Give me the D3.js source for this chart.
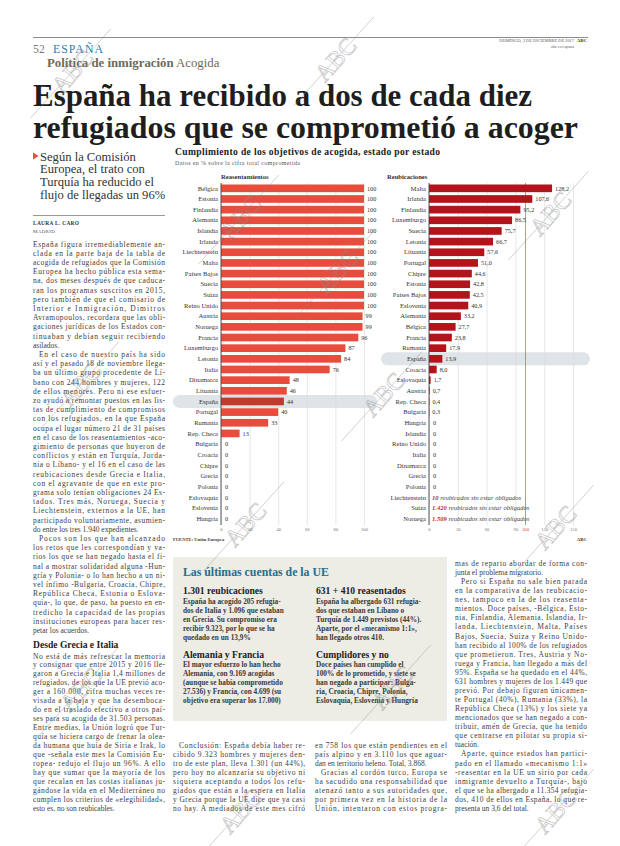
<!DOCTYPE html>
<html><head><meta charset="utf-8">
<script src="https://cdn.jsdelivr.net/npm/d3@7"></script>
<style>html,body{margin:0;padding:0;background:#fff;} svg{display:block;}</style>
</head><body>
<svg id="page" width="620" height="846"></svg>
<script>
// ---------------- DATA ----------------
const resCountries = ["Bélgica","Estonia","Finlandia","Alemania","Islandia","Irlanda","Liechtenstein","Malta","Países Bajos","Suecia","Suiza","Reino Unido","Austria","Noruega","Francia","Luxemburgo","Letonia","Italia","Dinamarca","Lituania","España","Portugal","Rumania","Rep. Checa","Bulgaria","Croacia","Chipre","Grecia","Polonia","Eslovaquia","Eslovenia","Hungría"];
const resValues = [100,100,100,100,100,100,100,100,100,100,100,100,99,99,96,87,84,76,48,46,44,40,33,13,0,0,0,0,0,0,0,0];
const reuCountries = ["Malta","Irlanda","Finlandia","Luxemburgo","Suecia","Letonia","Lituania","Portugal","Chipre","Estonia","Países Bajos","Eslovenia","Alemania","Bélgica","Francia","Rumania","España","Croacia","Eslovaquia","Austria","Rep. Checa","Bulgaria","Hungría","Islandia","Reino Unido","Italia","Dinamarca","Grecia","Polonia","Liechtenstein","Suiza","Noruega"];
const reuValues = [128.2,107.6,95.2,86.5,75.7,66.7,57.6,51.0,44.6,42.8,42.5,40.9,33.2,27.7,23.8,17.9,13.9,8.0,1.7,0.7,0.4,0.3,0,0,0,0,0,0,0,null,null,null];
const noteCountries = ["Liechtenstein","Suiza","Noruega"];
const noteValues = ["10","1.420","1.509"];
const leftTicks = [0,20,40,60,80,100];
const rightTicks = [0,30,60,90,120,150];
const rightTarget = 100;

// ---------------- TEXT ----------------
const headline = ["España ha recibido a dos de cada diez","refugiados que se comprometió a acoger"];
const subhead = ["Según la Comisión","Europea, el trato con","Turquía ha reducido el","flujo de llegadas un 96%"];
const colLeft1 = [
"España figura irremediablemente an-","clada en la parte baja de la tabla de","acogida de refugiados que la Comisión","Europea ha hecho pública esta sema-","na, dos meses después de que caduca-","ran los programas suscritos en 2015,","pero también de que el comisario de","Interior e Inmigración, Dimitros","Avramopoulos, recordara que las obli-","gaciones jurídicas de los Estados con-","tinuaban y debían seguir recibiendo","asilados.$",
"^En el caso de nuestro país ha sido","así y el pasado 18 de noviembre llega-","ba un último grupo procedente de Lí-","bano con 244 hombres y mujeres, 122","de ellos menores. Pero ni ese esfuer-","zo ayudó a remontar puestos en las lis-","tas de cumplimiento de compromisos","con los refugiados, en la que España","ocupa el lugar número 21 de 31 países","en el caso de los reasentamientos -aco-","gimiento de personas que huyeron de","conflictos y están en Turquía, Jorda-","nia o Líbano- y el 16 en el caso de las","reubicaciones desde Grecia e Italia,","con el agravante de que en este pro-","grama solo tenían obligaciones 24 Es-","tados. Tres más, Noruega, Suecia y","Liechtenstein, externos a la UE, han","participado voluntariamente, asumien-","do entre los tres 1.940 expedientes.$",
"^Pocos son los que han alcanzado","los retos que les correspondían y va-","rios los que se han negado hasta el fi-","nal a mostrar solidaridad alguna -Hun-","gría y Polonia- o lo han hecho a un ni-","vel ínfimo -Bulgaria, Croacia, Chipre,","República Checa, Estonia o Eslova-","quia-, lo que, de paso, ha puesto en en-","tredicho la capacidad de las propias","instituciones europeas para hacer res-","petar los acuerdos.$"];
const colLeft2 = [
"No está de más refrescar la memoria","y consignar que entre 2015 y 2016 lle-","garon a Grecia e Italia 1,4 millones de","refugiados, de los que la UE previó aco-","ger a 160.000, cifra muchas veces re-","visada a la baja y que ha desemboca-","do en el traslado efectivo a otros paí-","ses para su acogida de 31.503 personas.","Entre medias, la Unión logró que Tur-","quía se hiciera cargo de frenar la olea-","da humana que huía de Siria e Irak, lo","que -señala este mes la Comisión Eu-","ropea- redujo el flujo un 96%. A ello","hay que sumar que la mayoría de los","que recalan en las costas italianas ju-","gándose la vida en el Mediterráneo no","cumplen los criterios de «elegibilidad»,","esto es, no son reubicables.$"];
const colA = ["^Conclusión: España debía haber re-","cibido 9.323 hombres y mujeres den-","tro de este plan, lleva 1.301 (un 44%),","pero hoy no alcanzaría su objetivo ni","siquiera aceptando a todos los refu-","giados que están a la espera en Italia","y Grecia porque la UE dice que ya casi","no hay. A mediados de este mes cifró"];
const colB = ["en 758 los que están pendientes en el","país alpino y en 3.110 los que aguar-","dan en territorio heleno. Total, 3.868.$","^Gracias al cordón turco, Europa se","ha sacudido una responsabilidad que","atenazó tanto a sus autoridades que,","por primera vez en la historia de la","Unión, intentaron con estos progra-"];
const colC = ["mas de reparto abordar de forma con-","junta el problema migratorio.$","^Pero si España no sale bien parada","en la comparativa de las reubicacio-","nes, tampoco en la de los reasenta-","mientos. Doce países, -Bélgica, Esto-","nia, Finlandia, Alemania, Islandia, Ir-","landa, Liechtenstein, Malta, Países","Bajos, Suecia, Suiza y Reino Unido-","han recibido al 100% de los refugiados","que prometieron. Tres, Austria y No-","ruega y Francia, han llegado a más del","95%. España se ha quedado en el 44%,","631 hombres y mujeres de los 1.449 que","previó. Por debajo figuran únicamen-","te Portugal (40%), Rumania (33%), la","República Checa (13%) y los siete ya","mencionados que se han negado a con-","tribuir, amén de Grecia, que ha tenido","que centrarse en pilotar su propia si-","tuación.$","^Aparte, quince estados han partici-","pado en el llamado «mecanismo 1:1»","-reasentar en la UE un sirio por cada","inmigrante devuelto a Turquía-, bajo","el que se ha albergado a 11.354 refugia-","dos, 410 de ellos en España, lo que re-","presenta un 3,6 del total.$"];
const box1Head = "1.301 reubicaciones";
const box1 = ["España ha acogido 205 refugia-","dos de Italia y 1.096 que estaban","en Grecia. Su compromiso era","recibir 9.323, por lo que se ha","quedado en un 13,9%"];
const box2Head = "631 + 410 reasentados";
const box2 = ["España ha albergado 631 refugia-","dos que estaban en Líbano o","Turquía de 1.449 previstos (44%).","Aparte, por el «mecanismo 1:1»,","han llegado otros 410."];
const box3Head = "Alemania y Francia";
const box3 = ["El mayor esfuerzo lo han hecho","Alemania, con 9.169 acogidas","(aunque se había comprometido","27.536) y Francia, con 4.699 (su","objetivo era superar los 17.000)"];
const box4Head = "Cumplidores y no";
const box4 = ["Doce países han cumplido el","100% de lo prometido, y siete se","han negado a participar: Bulga-","ria, Croacia, Chipre, Polonia,","Eslovaquia, Eslovenia y Hungría"];

// ---------------- DRAW ----------------
const F = "'Liberation Serif','Times New Roman',serif";
const svg = d3.select("#page");
svg.append("rect").attr("width",620).attr("height",846).attr("fill","#fff");

function txt(p, x, y, s, o = {}) {
  const t = p.append("text").attr("x", x).attr("y", y).text(s)
    .attr("font-family", o.ff || F).attr("font-size", o.size || 7.5)
    .attr("fill", o.fill || "#222");
  if (o.bold) t.attr("font-weight", "bold");
  if (o.italic) t.attr("font-style", "italic");
  if (o.anchor) t.attr("text-anchor", o.anchor);
  if (o.len) t.attr("textLength", o.len).attr("lengthAdjust", o.adj || "spacing");
  if (o.ls) t.attr("letter-spacing", o.ls);
  return t;
}
function column(lines, x, y0, step, w, o = {}) {
  lines.forEach((raw, i) => {
    let s = raw, ind = 0, just = o.justify !== false;
    if (s.startsWith("^")) { s = s.slice(1); ind = 6; }
    if (s.endsWith("$")) { s = s.slice(0, -1); just = false; }
    const t = txt(svg, x + ind, y0 + i * step, s, {size: o.size || 7.5, fill: o.fill || "#3d3d3d", bold: o.bold});
    if (just) t.attr("textLength", w - ind).attr("lengthAdjust", "spacing");
  });
}

// Header
svg.append("line").attr("x1",33).attr("x2",588).attr("y1",37.5).attr("y2",37.5).attr("stroke","#8c8c8c").attr("stroke-width",1);
txt(svg,33,52.5,"52",{size:11.8,fill:"#7a7a7a"});
txt(svg,53,52.5,"ESPAÑA",{size:11.8,fill:"#2f7db3",len:50});
const sec = txt(svg,47,66.5,"",{size:12.8,fill:"#6e6a58"});
sec.append("tspan").attr("font-weight","bold").text("Política de inmigración");
sec.append("tspan").text(" Acogida");
txt(svg,574,42,"DOMINGO, 3 DE DICIEMBRE DE 2017",{size:4.4,fill:"#555",anchor:"end"});
txt(svg,587,42,"ABC",{size:4.8,fill:"#333",bold:true,anchor:"end"});
txt(svg,574,48,"abc.es/espana",{size:4.2,fill:"#666",anchor:"end"});

// Headline
txt(svg,33,106,headline[0],{size:31,bold:true,fill:"#1e1e1e",len:499,adj:"spacingAndGlyphs"});
txt(svg,33,138,headline[1],{size:31,bold:true,fill:"#1e1e1e",len:545,adj:"spacingAndGlyphs"});

// Subhead
svg.append("path").attr("d","M33,152.5 L38.5,156 L33,159.5 Z").attr("fill","#e0533d");
subhead.forEach((s,i)=> txt(svg,40,160.5+i*12.7,s,{size:12.6,fill:"#333"}));
svg.append("line").attr("x1",33).attr("x2",165).attr("y1",215.5).attr("y2",215.5).attr("stroke","#999").attr("stroke-width",1);
txt(svg,33,224.5,"LAURA L. CARO",{size:5.4,bold:true,fill:"#333",ls:0.3});
txt(svg,33,233,"MADRID",{size:5,fill:"#555",ls:0.3});

column(colLeft1, 33, 246.5, 9.2, 132);
txt(svg,33,648,"Desde Grecia e Italia",{size:9.6,bold:true,fill:"#222"});
column(colLeft2, 33, 658.5, 8.97, 132);

// ---------------- CHART ----------------
const ch = svg.append("g");
txt(ch,175,155,"Cumplimiento de los objetivos de acogida, estado por estado",{size:9.6,bold:true,fill:"#222",len:265});
txt(ch,175,165,"Datos en % sobre la cifra total comprometida",{size:6,fill:"#555",len:125});
txt(ch,221,179,"Reasentamientos",{size:6.6,bold:true,fill:"#333"});
txt(ch,387,179,"Reubicaciones",{size:6.6,bold:true,fill:"#333"});

const yTop = 183, yBot = 524;
const yL = d3.scaleBand().domain(resCountries).range([yTop,yBot]).paddingInner(0.28).paddingOuter(0.14);
const yR = d3.scaleBand().domain(reuCountries).range([yTop,yBot]).paddingInner(0.28).paddingOuter(0.14);
const xL = d3.scaleLinear().domain([0,100]).range([221,364]);
const xR = d3.scaleLinear().domain([0,150]).range([429,573]);
const fmtR = v => v === 0 ? "0" : d3.format(".1f")(v).replace(".", ",");

// highlight band for España
const hy = yL("España") + yL.bandwidth()/2;
ch.append("rect").attr("x",173).attr("y",hy-6.5).attr("width",204).attr("height",13).attr("rx",6.5).attr("fill","#dfe4e8");
const hy2 = yR("España") + yR.bandwidth()/2;
ch.append("rect").attr("x",381).attr("y",hy2-6.5).attr("width",209).attr("height",13).attr("rx",6.5).attr("fill","#dfe4e8");

// axes with gridlines
function styleAxis(g){
  g.select(".domain").remove();
  g.selectAll(".tick line").attr("stroke","#dcdcdc").attr("stroke-width",0.7);
  g.selectAll(".tick text").attr("font-family",F).attr("font-size",4.6).attr("fill","#777");
}
const axL = ch.append("g").attr("transform",`translate(0,${yBot+1})`)
  .call(d3.axisBottom(xL).tickValues(leftTicks).tickSize(-(yBot-yTop+1)).tickPadding(3).tickFormat(d3.format("d")));
styleAxis(axL);
const axR = ch.append("g").attr("transform",`translate(0,${yBot+1})`)
  .call(d3.axisBottom(xR).tickValues(rightTicks).tickSize(-(yBot-yTop+1)).tickPadding(3).tickFormat(d3.format("d")));
styleAxis(axR);
const axT = ch.append("g").attr("transform",`translate(0,${yBot+1})`)
  .call(d3.axisBottom(xR).tickValues([rightTarget]).tickSize(-(yBot-yTop+1)).tickPadding(3).tickFormat(d3.format("d")));
axT.select(".domain").remove();
axT.selectAll(".tick line").attr("stroke","#d9534a").attr("stroke-width",0.7);
axT.selectAll(".tick text").attr("font-family",F).attr("font-size",4.6).attr("fill","#d0392f");

// left bars
ch.selectAll(".barL").data(resCountries).join("rect")
  .attr("x",xL(0)).attr("y",d=>yL(d)).attr("height",yL.bandwidth())
  .attr("width",(d,i)=>xL(resValues[i])-xL(0))
  .attr("fill",d=> d==="España" ? "#c23a2e" : "#e84c3c");
ch.selectAll(".labL").data(resCountries).join("text")
  .attr("x",xL(0)-3).attr("y",d=>yL(d)+yL.bandwidth()/2+2.2).attr("text-anchor","end")
  .attr("font-family",F).attr("font-size",6.6).attr("fill","#333").text(d=>d);
ch.selectAll(".valL").data(resCountries).join("text")
  .attr("x",(d,i)=>xL(resValues[i])+ (resValues[i]===0?4:3)).attr("y",d=>yL(d)+yL.bandwidth()/2+2.2)
  .attr("font-family",F).attr("font-size",6.2).attr("fill","#333").text((d,i)=>resValues[i]);

// right bars
const reuDrawn = reuCountries.filter((d,i)=>reuValues[i]!==null);
ch.selectAll(".barR").data(reuDrawn).join("rect")
  .attr("x",xR(0)).attr("y",d=>yR(d)).attr("height",yR.bandwidth())
  .attr("width",d=>xR(reuValues[reuCountries.indexOf(d)])-xR(0))
  .attr("fill","#b3141c");
ch.selectAll(".labR").data(reuCountries).join("text")
  .attr("x",xR(0)-3).attr("y",d=>yR(d)+yR.bandwidth()/2+2.2).attr("text-anchor","end")
  .attr("font-family",F).attr("font-size",6.6).attr("fill","#333").text(d=>d);
ch.selectAll(".valR").data(reuDrawn).join("text")
  .attr("x",d=>{const v=reuValues[reuCountries.indexOf(d)]; return xR(v)+(v===0?4:3);})
  .attr("y",d=>yR(d)+yR.bandwidth()/2+2.2)
  .attr("font-family",F).attr("font-size",6.2).attr("fill","#333")
  .text(d=>fmtR(reuValues[reuCountries.indexOf(d)]));
noteCountries.forEach((c,i)=>{
  const t = ch.append("text").attr("x",xR(0)+3).attr("y",yR(c)+yR.bandwidth()/2+2.2)
    .attr("font-family",F).attr("font-size",6.6).attr("font-style","italic");
  t.append("tspan").attr("fill","#c0291f").attr("font-weight","bold").text(noteValues[i]);
  t.append("tspan").attr("fill","#444").text(" reubicados sin estar obligados");
});

// zero lines
ch.append("line").attr("x1",xL(0)).attr("x2",xL(0)).attr("y1",yTop).attr("y2",yBot+1).attr("stroke","#444").attr("stroke-width",0.9);
ch.append("line").attr("x1",xR(0)).attr("x2",xR(0)).attr("y1",yTop).attr("y2",yBot+1).attr("stroke","#444").attr("stroke-width",0.9);

txt(ch,173,540.5,"FUENTE: Unión Europea",{size:4.6,bold:true,fill:"#444"});
txt(ch,587,540.5,"ABC",{size:4.8,bold:true,fill:"#333",anchor:"end"});

// ---------------- BOX ----------------
svg.append("rect").attr("x",173).attr("y",557).attr("width",274).attr("height",164).attr("fill","#edece5");
txt(svg,183,575.5,"Las últimas cuentas de la UE",{size:11.8,bold:true,fill:"#23708f"});
function boxCol(x, head, lines, yh){
  txt(svg,x,yh,head,{size:9.6,bold:true,fill:"#222"});
  lines.forEach((s,i)=>txt(svg,x,yh+9.6+i*9,s,{size:7.3,bold:true,fill:"#3a3a3a"}));
}
boxCol(183,box1Head,box1,594);
boxCol(316,box2Head,box2,594);
boxCol(183,box3Head,box3,657.5);
boxCol(316,box4Head,box4,657.5);

// bottom columns
column(colA,173,748,9.0,132);
column(colB,315,748,9.0,132);
column(colC,455,566,9.07,132);

// ---------------- WATERMARKS ----------------
const wmPos = [[72,72],[335,60],[240,218],[337,272],[550,214],[80,385],[383,395],[245,525],[555,528],[80,690],[392,688],[240,812],[555,812]];
wmPos.forEach(([cx,cy])=>{
  const g = svg.append("g").attr("transform",`translate(${cx},${cy}) rotate(-48)`).attr("opacity",0.5);
  g.append("line").attr("x1",-62).attr("x2",58).attr("y1",0).attr("y2",0).attr("stroke","#8a8a8a").attr("stroke-width",0.7);
  g.append("text").attr("x",-24).attr("y",8).text("ABC").attr("font-family",F).attr("font-size",24)
    .attr("fill","none").attr("stroke","#8a8a8a").attr("stroke-width",0.7);
});
</script></body></html>
